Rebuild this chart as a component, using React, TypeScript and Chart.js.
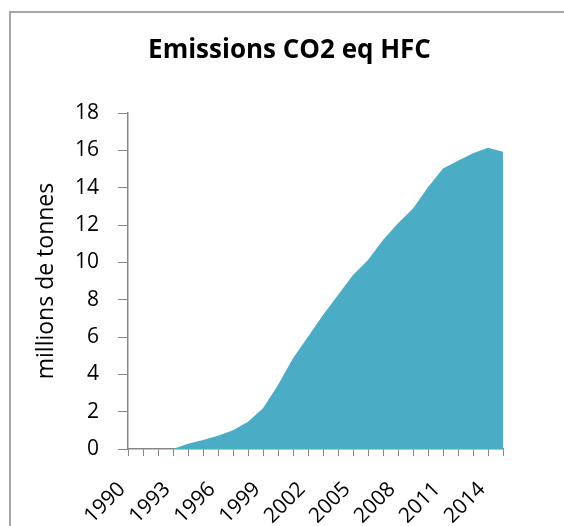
import React, { useEffect, useRef } from "react";
import { Chart, registerables } from "chart.js";

Chart.register(...registerables);

const years: string[] = [
  "1990", "1991", "1992", "1993", "1994", "1995", "1996", "1997", "1998", "1999",
  "2000", "2001", "2002", "2003", "2004", "2005", "2006", "2007", "2008", "2009",
  "2010", "2011", "2012", "2013", "2014", "2015",
];

const emissions: number[] = [
  0, 0, 0, 0, 0.28, 0.48, 0.71, 1.0, 1.46, 2.18,
  3.43, 4.86, 6.02, 7.18, 8.25, 9.32, 10.12, 11.2, 12.09, 12.89,
  14.02, 15.03, 15.44, 15.84, 16.14, 15.93,
];

const chartTitle = "Emissions CO2 eq HFC";
const yAxisTitle = "millions de tonnes";

const FONT = "'Open Sans', sans-serif";

const framePlugin = {
  id: "frame",
  beforeDraw(chart: any) {
    const ctx = chart.ctx;
    ctx.save();
    ctx.fillStyle = "#ffffff";
    ctx.fillRect(0, 0, chart.width, chart.height);
    ctx.strokeStyle = "#a6a6a6";
    ctx.lineWidth = 2;
    ctx.strokeRect(10, 12, 800, 800);
    ctx.restore();
  },
  afterDraw(chart: any) {
    const ctx = chart.ctx;
    ctx.save();
    ctx.fillStyle = "#000000";
    ctx.font = `bold 26px ${FONT}`;
    ctx.textAlign = "center";
    ctx.textBaseline = "middle";
    ctx.fillText(chartTitle, 289.5, 51);
    ctx.restore();
  },
};

export default function App() {
  const canvasRef = useRef<HTMLCanvasElement | null>(null);

  useEffect(() => {
    if (!canvasRef.current) return;
    const chart = new Chart(canvasRef.current, {
      type: "line",
      data: {
        labels: years,
        datasets: [
          {
            data: emissions,
            fill: "origin",
            backgroundColor: "#4BACC6",
            borderColor: "#4BACC6",
            borderWidth: 0,
            pointRadius: 0,
            tension: 0,
          },
        ],
      },
      options: {
        responsive: false,
        animation: false,
        layout: { padding: { left: 33, right: 61, top: 113, bottom: 0 } },
        plugins: {
          legend: { display: false },
          tooltip: { enabled: false },
          title: { display: false },
        },
        scales: {
          x: {
            type: "category",
            offset: false,
            afterFit(scale: any) {
              scale.height = 77;
            },
            grid: {
              drawOnChartArea: false,
              drawTicks: true,
              tickLength: 7,
              color: "#868686",
            },
            border: { color: "#868686", width: 1.5 },
            ticks: {
              autoSkip: false,
              maxRotation: 45,
              minRotation: 45,
              padding: 21,
              labelOffset: -6,
              color: "#000000",
              font: { family: FONT, size: 21 },
              callback: (_v: any, i: number) => (i % 3 === 0 ? years[i] : ""),
            },
          },
          y: {
            min: 0,
            max: 18,
            afterFit(scale: any) {
              scale.width = 95;
            },
            grid: {
              drawOnChartArea: false,
              drawTicks: true,
              tickLength: 10,
              color: "#868686",
            },
            border: { color: "#868686", width: 1.5 },
            ticks: {
              stepSize: 2,
              padding: 19,
              color: "#000000",
              font: { family: FONT, size: 21 },
            },
            title: {
              display: true,
              text: yAxisTitle,
              color: "#000000",
              font: { family: FONT, size: 23 },
              padding: { top: 0, bottom: 0 },
            },
          },
        },
      },
      plugins: [framePlugin],
    });
    return () => chart.destroy();
  }, []);

  return (
    <div style={{ position: "fixed", left: 0, top: 0, width: 564, height: 526, overflow: "hidden" }}>
      <canvas ref={canvasRef} width={564} height={526} style={{ display: "block" }} />
    </div>
  );
}
